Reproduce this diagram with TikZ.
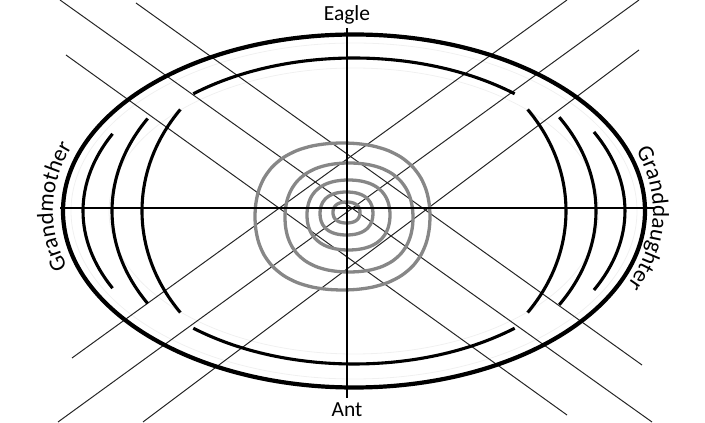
\documentclass[tikz,border=0pt]{standalone}
\usepackage{fontspec}
\setmainfont{Carlito}
\usetikzlibrary{decorations.text}
\tikzset{
  outerring/.style={line width=4.2pt, black},
  arcline/.style={line width=3.1pt, black},
  axisline/.style={line width=1.4pt, black},
  diagline/.style={line width=1pt, black!85},
  ringline/.style={line width=3.3pt, black!47},
  faintline/.style={line width=0.8pt, black!6},
  labeltext/.style={font=\fontsize{21.5}{25}\selectfont, inner sep=0pt}
}
\newcommand{\ringloop}[4]{%
  \draw[ringline] plot[smooth cycle, domain=0:350, samples=36]
    ({#1+#3*cos(\x)*(1+0.05*pow(sin(2*\x),2))},{#2+#4*sin(\x)*(1+0.05*pow(sin(2*\x),2))});}
\begin{document}
\begin{tikzpicture}[x=1pt,y=1pt]
\useasboundingbox (0,0) rectangle (705,423);
\coordinate (C) at (354,212);
% faint ghost ellipses
\draw[faintline] (C) ellipse[x radius=283, y radius=168];
\draw[faintline] (C) ellipse[x radius=245, y radius=143];
% diagonal lines
\coordinate (d0a) at (60,423);  \coordinate (d0b) at (652,1);
\coordinate (dpa) at (136,420); \coordinate (dpb) at (642,58);
\coordinate (dma) at (66,368);  \coordinate (dmb) at (567,8);
\coordinate (u0a) at (58,1);    \coordinate (u0b) at (639,423);
\coordinate (uma) at (72,65);   \coordinate (umb) at (567,423);
\coordinate (upa) at (143,1);   \coordinate (upb) at (639,373);
\draw[diagline] (d0a) -- (d0b);
\draw[diagline] (dpa) -- (dpb);
\draw[diagline] (dma) -- (dmb);
\draw[diagline] (u0a) -- (u0b);
\draw[diagline] (uma) -- (umb);
\draw[diagline] (upa) -- (upb);
% outer ellipse
\draw[outerring] (C) ellipse[x radius=291, y radius=176.5];
% top and bottom arcs
\draw[arcline] (C) ++(50:250 and 153) arc[start angle=50, end angle=130, x radius=250, y radius=153];
\draw[arcline] (C) ++(230:250 and 153) arc[start angle=230, end angle=310, x radius=250, y radius=153];
% left arcs
\draw[arcline] (C) ++(145:212 and 177) arc[start angle=145, end angle=215, x radius=212, y radius=177];
\draw[arcline] (C) ++(148.5:242 and 177) arc[start angle=148.5, end angle=211.5, x radius=242, y radius=177];
\draw[arcline] (C) ++(153:271 and 170) arc[start angle=153, end angle=207, x radius=271, y radius=170];
% right arcs
\draw[arcline] (C) ++(-35:212 and 177) arc[start angle=-35, end angle=35, x radius=212, y radius=177];
\draw[arcline] (C) ++(-32:242 and 177) arc[start angle=-32, end angle=32, x radius=242, y radius=177];
\draw[arcline] (C) ++(-27.7:271 and 170) arc[start angle=-27.7, end angle=27.7, x radius=271, y radius=170];
% rings
\ringloop{346.5}{210.5}{13.5}{10.5}
\ringloop{346.5}{209.5}{26.5}{21.5}
\ringloop{348.5}{208}{41.5}{35}
\ringloop{349}{205.5}{64}{54.5}
\ringloop{342.5}{206.5}{87.5}{73.5}
% axes
\coordinate (vt) at (347,395); \coordinate (vb) at (347,25);
\coordinate (hl) at (60,215);  \coordinate (hr) at (654,215);
\draw[axisline] (vt) -- (vb);
\draw[axisline] (hl) -- (hr);
% labels
\node[labeltext] (eagle) at (347,408) {Eagle};
\node[labeltext] (ant) at (347,13) {Ant};
\path[decorate, decoration={text along path, text align=center,
  text={|\fontsize{23}{26}\selectfont|Grandmother}}]
  (C) ++(231:301 and 185) arc[start angle=231, end angle=127, x radius=301, y radius=185];
\path[decorate, decoration={text along path, text align=center,
  text={|\fontsize{23}{26}\selectfont|Granddaughter}}]
  (C) ++(32:299 and 182) arc[start angle=32, end angle=-36, x radius=299, y radius=182];
\end{tikzpicture}
\end{document}
